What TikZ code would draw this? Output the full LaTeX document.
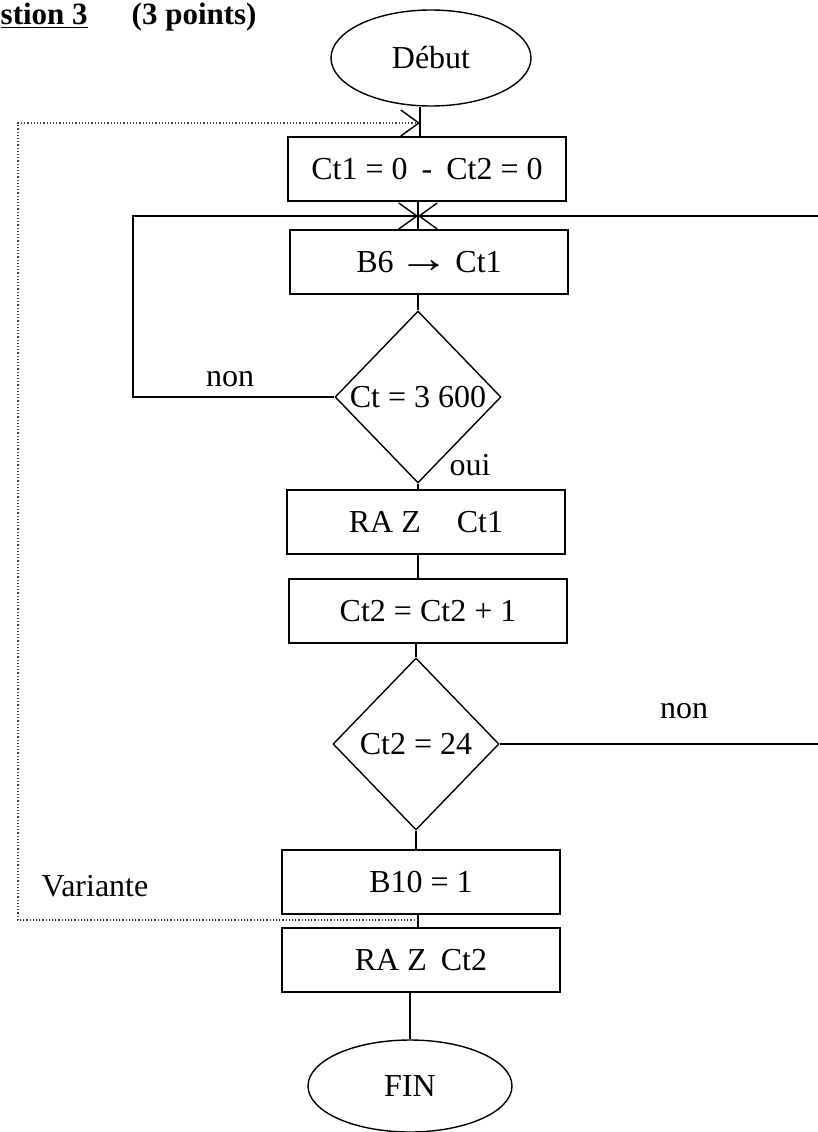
\documentclass[tikz,border=0pt]{standalone}
\usepackage{fontspec}
\usepackage{graphicx}
\setmainfont{Liberation Serif}
\usetikzlibrary{shapes.geometric,arrows.meta}
\begin{document}
\begin{tikzpicture}[x=1pt,y=-1pt,
  line width=1.4pt,
  every node/.style={font=\fontsize{32}{38}\selectfont},
  boite/.style={draw,rectangle,minimum width=278pt,minimum height=64pt,inner sep=0pt},
  ovale/.style={draw,ellipse,minimum width=200pt,minimum height=96pt,inner sep=0pt},
  losange/.style={draw,diamond,minimum width=166pt,minimum height=172pt,inner sep=0pt},
  fleche/.style={-{Straight Barb[length=18pt,width=26pt]}},
  pointille/.style={dotted,line width=1.2pt,black!75},
  etiq/.style={inner sep=0pt}]
\useasboundingbox (0,0) rectangle (817,1132);

% title
\node[etiq,anchor=base west,font=\bfseries\fontsize{31}{36}\selectfont] (titre) at (0,25) {\underline{stion 3}};
\node[etiq,anchor=base west,font=\bfseries\fontsize{31}{36}\selectfont] (points) at (131,25) {(3 points)};

% nodes
\node[ovale] (deb) at (431,58) {Début};
\node[boite] (c1) at (427,169) {Ct1 = 0\hspace{14pt}-\hspace{14pt}Ct2 = 0};
\node[boite] (b6) at (429,262) {B6\,\scalebox{1.6}[1.3]{→}\,Ct1};
\node[losange] (d1) at (418,397) {\makebox[0pt]{Ct = 3 600}};
\node[boite] (raz1) at (426,522) {RA Z\hspace{36pt}Ct1};
\node[boite] (inc) at (428,611) {Ct2 = Ct2 + 1};
\node[losange] (d2) at (416,744) {\makebox[0pt]{Ct2 = 24}};
\node[boite] (b10) at (421,882) {B10 = 1};
\node[boite] (raz2) at (421,960) {RA Z\hspace{14pt}Ct2};
\node[ovale,minimum width=204pt,minimum height=92pt] (fin) at (410,1086) {FIN};

% labels
\node[etiq] (non1) at (230,379) {non};
\node[etiq] (oui) at (470,465) {oui};
\node[etiq] (non2) at (684,711) {non};
\node[etiq] (var) at (95,886) {Variante};

% helper coordinates
\coordinate (j) at (418,216);
\coordinate (lc) at (133,397);
\coordinate (rc) at (826,744);
\coordinate (vb) at (418,920);
\coordinate (vl) at (18,920);
\coordinate (vt) at (420,123);

% main chain
\draw (deb.south -| vt) -- (c1.north -| vt);
\draw (c1.south -| j) -- (b6.north -| j);
\draw (b6.south -| d1.north) -- (d1.north);
\draw (d1.south) -- (raz1.north -| d1.south);
\draw (raz1.south -| d1.south) -- (inc.north -| d1.south);
\draw (inc.south -| d2.north) -- (d2.north);
\draw (d2.south) -- (b10.north -| d2.south);
\draw (b10.south -| vb) -- (raz2.north -| vb);
\draw (raz2.south -| fin.north) -- (fin.north);

% loops
\draw[fleche] (d1.west) -- (lc) |- (j);
\draw[fleche] (d2.east) -- (rc) |- (j);
\draw[pointille] (vb) -- (vl) |- (vt);
\draw[fleche,line width=1.4pt] ([xshift=-1pt]vt) -- (vt);
\end{tikzpicture}
\end{document}
